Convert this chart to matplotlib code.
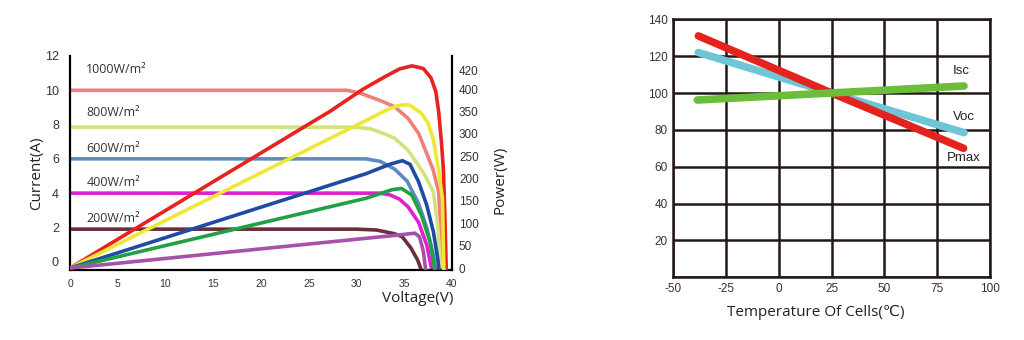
"""
PV module datasheet curves: I-V / P-V at five irradiance levels,
and temperature coefficients of Isc, Voc, Pmax.
"""
import matplotlib
matplotlib.use("Agg")
import matplotlib.pyplot as plt
from matplotlib.transforms import ScaledTranslation

plt.rcParams["axes.unicode_minus"] = False

# ================================================================
# Data
# ================================================================
irradiance_labels = ["1000W/m²", "800W/m²", "600W/m²", "400W/m²", "200W/m²"]
label_y = [11.2, 8.7, 6.6, 4.6, 2.55]

# I-V curves: voltage (V) / current (A)
iv_1000_v = [0, 29, 30.4, 32.5, 34.0, 35.4, 36.5, 37.35, 38.0, 38.6, 38.85, 39.0]
iv_1000_i = [10, 10, 9.83, 9.4, 9.04, 8.36, 7.49, 6.32, 5.4, 4.08, 1.75, -0.5]
iv_800_v = [0, 30, 31.5, 33.2, 34.0, 35.4, 36.4, 37.2, 38.05, 38.5, 38.74, 38.85]
iv_800_i = [7.85, 7.85, 7.75, 7.4, 7.2, 6.5, 5.7, 5.0, 4.08, 2.14, 0.2, -0.5]
iv_600_v = [0, 31, 32.5, 34.0, 35.3, 36.5, 37.35, 38.05, 38.3]
iv_600_i = [6.0, 6.0, 5.85, 5.4, 4.7, 3.4, 2.0, 0.4, -0.5]
iv_400_v = [0, 32.5, 33.5, 34.5, 35.4, 36.5, 37.35, 37.9]
iv_400_i = [4.0, 4.0, 3.9, 3.65, 3.2, 2.3, 1.0, -0.5]
iv_200_v = [0, 30, 32.1, 34.0, 34.8, 35.7, 36.4, 36.8]
iv_200_i = [1.9, 1.9, 1.85, 1.63, 1.45, 0.8, 0.1, -0.5]

# P-V curves: voltage (V) / power (W)
pv_1000_v = [0, 27.2, 30.7, 33.0, 34.5, 35.8, 37.0, 37.8, 38.3, 38.6, 38.9, 39.1, 39.25, 39.4]
pv_1000_p = [0, 350, 400, 428, 445, 452, 446, 425, 395, 350, 280, 220, 120, -5]
pv_800_v = [0, 31, 33.2, 34.5, 35.5, 36.8, 37.5, 38.05, 38.55, 39.0, 39.15]
pv_800_p = [0, 330, 354, 364, 365, 346, 324, 287, 225, 156, -5]
pv_600_v = [0, 31, 33.5, 34.8, 35.6, 36.5, 37.35, 38.05, 38.5, 38.65]
pv_600_p = [0, 211, 232, 240, 232, 193, 141, 81, 22, -5]
pv_400_v = [0, 31, 33.7, 34.7, 35.8, 36.8, 37.7, 38.2]
pv_400_p = [0, 156, 175, 178, 163, 118, 59, -5]
pv_200_v = [0, 34.0, 36.1, 36.6, 37.0, 37.25]
pv_200_p = [0, 73, 78, 70, 37, -5]

current_ticks = [0, 2, 4, 6, 8, 10, 12]
power_ticks = [0, 50, 100, 150, 200, 250, 300, 350, 400, 420]
voltage_ticks = [0, 5, 10, 15, 20, 25, 30, 35, 40]

# temperature coefficients: cell temperature (C) / relative value (%)
temp_isc = [-38.5, 87.7]
val_isc = [96.2, 103.8]
temp_voc = [-38, 25, 87.7]
val_voc = [122, 100, 78.5]
temp_pmax = [-38, 25, 87.5]
val_pmax = [131, 100, 70]

temp_ticks = [-50, -25, 0, 25, 50, 75, 100]
pct_ticks = [0, 20, 40, 60, 80, 100, 120, 140]

IV_COLORS = ["#EF7F7A", "#D3E27C", "#5E8CBF", "#E01FD0", "#6A2F3B"]
PV_COLORS = ["#E8221C", "#EEE834", "#1F4BA5", "#22A045", "#A552A8"]

LABEL_FONT = ["Open Sans", "DejaVu Sans"]
TICK_FONT = "Liberation Sans"

W, H = 1024, 340
fig = plt.figure(figsize=(W / 100, H / 100), dpi=100)

# ================================================================
# Left: I-V and P-V curves
# ================================================================
ax = fig.add_axes([70 / W, 1 - 270.3 / H, 382 / W, 214.3 / H])
ax2 = ax.twinx()

iv_sets = [(iv_1000_v, iv_1000_i), (iv_800_v, iv_800_i), (iv_600_v, iv_600_i),
           (iv_400_v, iv_400_i), (iv_200_v, iv_200_i)]
pv_sets = [(pv_1000_v, pv_1000_p), (pv_800_v, pv_800_p), (pv_600_v, pv_600_p),
           (pv_400_v, pv_400_p), (pv_200_v, pv_200_p)]

for (v, i), c in zip(iv_sets, IV_COLORS):
    ax.plot(v, i, color=c, lw=2.6, solid_capstyle="butt", solid_joinstyle="round")
for (v, p), c in zip(pv_sets, PV_COLORS):
    ax2.plot(v, p, color=c, lw=2.6, solid_capstyle="butt", solid_joinstyle="round")

for lab, y in zip(irradiance_labels, label_y):
    ax.text(1.7, y, lab, fontsize=9, color="#333333", va="center", ha="left",
            family=LABEL_FONT)

ax.set_xlim(0, 40)
ax.set_ylim(-0.5, 12.0)
ax2.set_ylim(-5, 474)

ax.set_xticks(voltage_ticks)
ax.set_yticks(current_ticks)
ax2.set_yticks(power_ticks)
ax.tick_params(axis="x", length=0, pad=6, labelsize=7.5, labelcolor="#333333")
ax.tick_params(axis="y", length=0, pad=8, labelsize=9, labelcolor="#333333")
ax2.tick_params(axis="y", length=0, pad=5, labelsize=8.5, labelcolor="#333333")
for lab in ax.get_xticklabels() + ax.get_yticklabels() + ax2.get_yticklabels():
    lab.set_family(TICK_FONT)

# the datasheet prints "420" a little above its true spot; nudge it so it clears "400"
top_tick = ax2.yaxis.get_major_ticks()[-1].label2
top_tick.set_transform(top_tick.get_transform()
                       + ScaledTranslation(0, 0.095, fig.dpi_scale_trans))

for a in (ax, ax2):
    for s in a.spines.values():
        s.set_visible(False)
ax.spines["left"].set_visible(True)
ax.spines["bottom"].set_visible(True)
ax2.spines["right"].set_visible(True)
for s in (ax.spines["left"], ax.spines["bottom"], ax2.spines["right"]):
    s.set_linewidth(1.6)
    s.set_color("black")

fig.text(37 / W, 1 - 173 / H, "Current(A)", rotation=90, ha="center", va="center",
         fontsize=11, color="#222222", family=LABEL_FONT)
fig.text(500 / W, 1 - 180 / H, "Power(W)", rotation=90, ha="center", va="center",
         fontsize=11, color="#222222", family=LABEL_FONT)
fig.text(418 / W, 1 - 298 / H, "Voltage(V)", ha="center", va="center",
         fontsize=11, color="#222222", family=LABEL_FONT)

# ================================================================
# Right: temperature coefficients
# ================================================================
bx = fig.add_axes([673 / W, 1 - 277.3 / H, 317 / W, 258 / H])
GRID_C = "#231815"

bx.plot(temp_voc, val_voc, color="#6EC5D5", lw=5.5, solid_capstyle="round")
bx.plot(temp_pmax, val_pmax, color="#E5231E", lw=5.5, solid_capstyle="round")
bx.plot(temp_isc, val_isc, color="#6BBE3A", lw=5.5, solid_capstyle="round")

bx.text(86.6, 112, "Isc", fontsize=9.5, ha="center", va="center", color="#222222",
        family=TICK_FONT)
bx.text(87.7, 87, "Voc", fontsize=9.5, ha="center", va="center", color="#222222",
        family=TICK_FONT)
bx.text(87.7, 65, "Pmax", fontsize=9.5, ha="center", va="center", color="#222222",
        family=TICK_FONT)

bx.set_xlim(-50, 100)
bx.set_ylim(0, 140)
bx.set_xticks(temp_ticks)
bx.set_yticks(pct_ticks)
bx.set_yticklabels(["" if t == 0 else str(t) for t in pct_ticks])
bx.grid(True, color=GRID_C, lw=1.8)
bx.set_axisbelow(True)
bx.tick_params(length=0, pad=4, labelsize=8.5, labelcolor="#333333")
for lab in bx.get_xticklabels() + bx.get_yticklabels():
    lab.set_family(TICK_FONT)
for s in bx.spines.values():
    s.set_linewidth(1.8)
    s.set_color(GRID_C)

fig.text(816 / W, 1 - 312 / H, "Temperature Of Cells(℃)", ha="center", va="center",
         fontsize=11, color="#222222", family=LABEL_FONT)

fig.savefig("out.png", dpi=100)
